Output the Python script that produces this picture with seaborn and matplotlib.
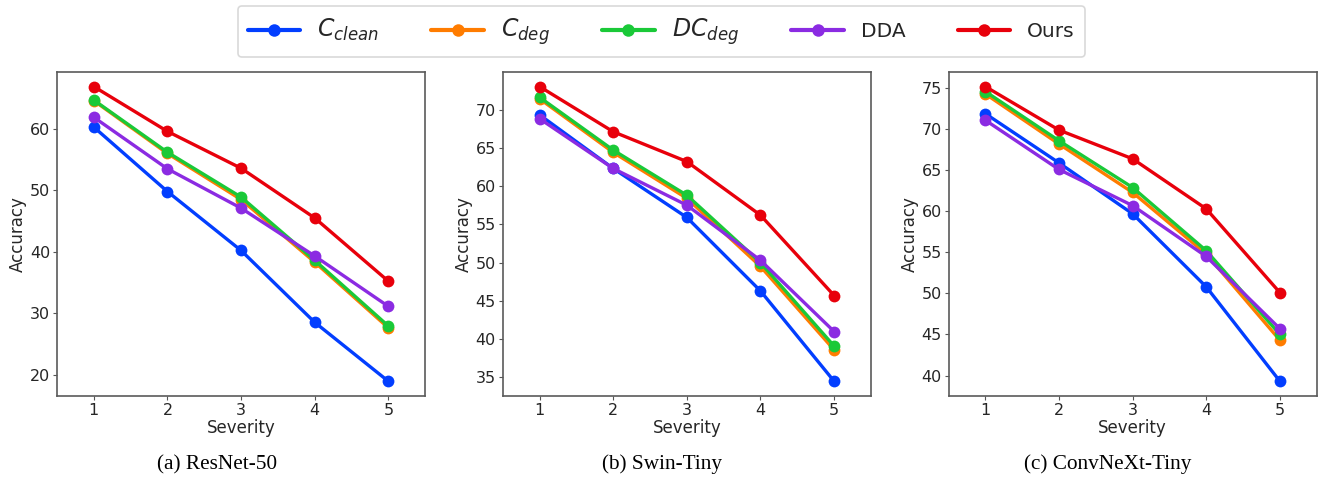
import numpy as np
import pandas as pd
import seaborn as sns
import matplotlib.pyplot as plt

# Accuracy per severity level
severity = [1, 2, 3, 4, 5]
methods = ["$C_{clean}$", "$C_{deg}$", "$DC_{deg}$", "DDA", "Ours"]
colors = ["#023eff", "#ff7c00", "#1ac938", "#8b2be2", "#e8000b"]

resnet_clean = [60.3, 49.8, 40.2, 28.5, 18.9]
resnet_deg = [64.6, 56.0, 48.5, 38.3, 27.6]
resnet_dcdeg = [64.7, 56.2, 48.9, 38.6, 27.9]
resnet_dda = [61.9, 53.5, 47.1, 39.3, 31.1]
resnet_ours = [66.9, 59.6, 53.6, 45.5, 35.2]

swin_clean = [69.3, 62.3, 55.9, 46.3, 34.5]
swin_deg = [71.4, 64.4, 58.4, 49.5, 38.6]
swin_dcdeg = [71.6, 64.7, 58.8, 50.0, 39.1]
swin_dda = [68.8, 62.3, 57.5, 50.3, 41.0]
swin_ours = [73.0, 67.1, 63.2, 56.2, 45.7]

convnext_clean = [71.9, 65.9, 59.7, 50.8, 39.3]
convnext_deg = [74.3, 68.2, 62.3, 54.8, 44.3]
convnext_dcdeg = [74.6, 68.6, 62.9, 55.2, 45.0]
convnext_dda = [71.1, 65.1, 60.7, 54.5, 45.7]
convnext_ours = [75.2, 69.9, 66.4, 60.3, 50.1]

panels = [
    ("(a) ResNet-50", [resnet_clean, resnet_deg, resnet_dcdeg, resnet_dda, resnet_ours]),
    ("(b) Swin-Tiny", [swin_clean, swin_deg, swin_dcdeg, swin_dda, swin_ours]),
    ("(c) ConvNeXt-Tiny", [convnext_clean, convnext_deg, convnext_dcdeg, convnext_dda, convnext_ours]),
]


def to_long(series):
    rows = []
    for name, vals in zip(methods, series):
        for s, v in zip(severity, vals):
            rows.append({"Severity": s, "Accuracy": v, "method": name})
    return pd.DataFrame(rows)


sns.set_style("white")
plt.rcParams["font.family"] = ["DejaVu Sans"]

fig, axes = plt.subplots(1, 3, figsize=(13.2, 4.79), dpi=100)
plt.subplots_adjust(left=0.0432, right=0.9975, top=0.850, bottom=0.1733, wspace=0.211)

palette = dict(zip(methods, colors))
caption_x = [0.1644, 0.5015, 0.839]

for ax, (caption, series), cx in zip(axes, panels, caption_x):
    df = to_long(series)
    sns.lineplot(data=df, x="Severity", y="Accuracy", hue="method", hue_order=methods,
                 palette=palette, marker="o", markersize=8.5, linewidth=2.4,
                 markeredgewidth=0, ax=ax, legend=False)
    ax.set_xticks(severity)
    ax.set_xlim(0.5, 5.5)
    ax.tick_params(axis="both", labelsize=11.5, length=3, width=0.8,
                   color="#555555", labelcolor="#262626", pad=2,
                   bottom=True, left=True)
    ax.set_xlabel("Severity", fontsize=12, color="#262626", labelpad=1)
    ax.set_ylabel("Accuracy", fontsize=12, color="#262626", labelpad=2)
    for sp in ax.spines.values():
        sp.set_color("#5a5a5a")
        sp.set_linewidth(1.2)
    fig.text(cx, 0.03, caption, ha="center", va="center",
             fontsize=15.3, family="Liberation Serif", color="black")

handles = [plt.Line2D([], [], color=c, marker="o", markersize=9, linewidth=3,
                      markeredgewidth=0) for c in colors]
leg = fig.legend(handles, methods, loc="center", bbox_to_anchor=(0.501, 0.934),
                 ncol=5, fontsize=14.5, handlelength=2.6, columnspacing=2.6,
                 handletextpad=0.85, frameon=True, borderpad=0.5)
for t in leg.get_texts():
    if t.get_text().startswith("$"):
        t.set_fontsize(17)
leg.get_frame().set_edgecolor("#d0d0d0")
leg.get_frame().set_linewidth(1.2)

plt.savefig("out.png", dpi=100, facecolor="white")
